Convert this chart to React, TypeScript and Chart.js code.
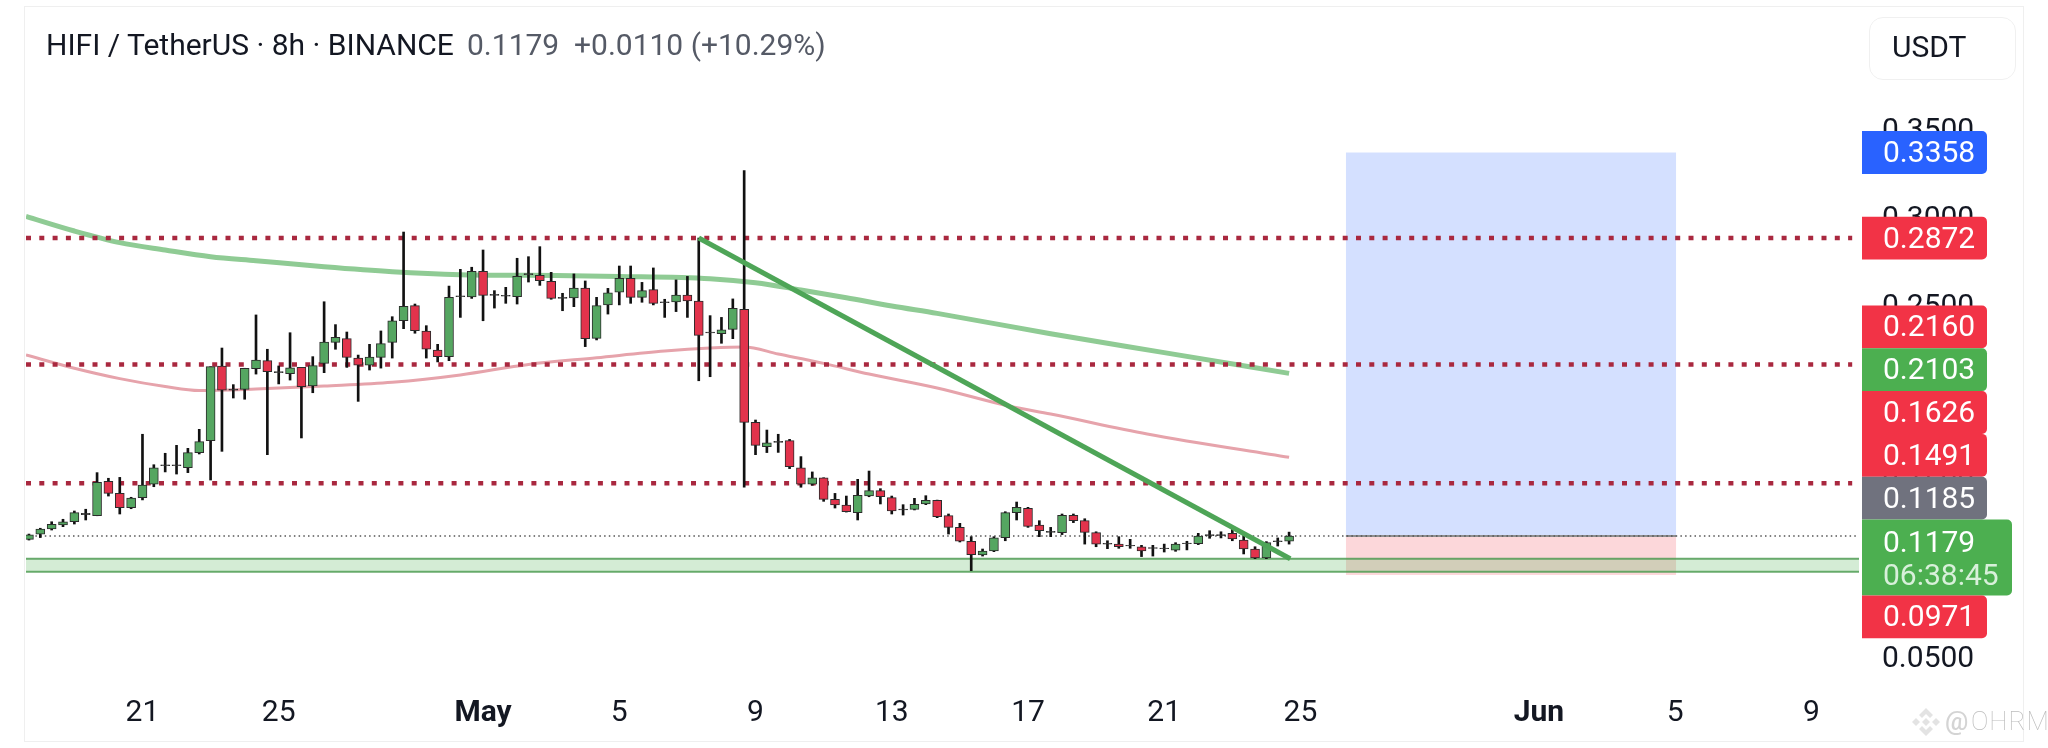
import { Chart, registerables } from "chart.js";
import React, { useEffect, useRef } from "react";

Chart.register(...registerables);

// 8h candles
const opens = [
  0.116, 0.1189, 0.1219, 0.1242, 0.126, 0.13, 0.1294, 0.149, 0.1421, 0.134, 0.1397, 0.1473, 0.1579, 0.1579,
  0.1567, 0.1653, 0.1721, 0.2145, 0.2008, 0.2012, 0.213, 0.2175, 0.2107, 0.2101, 0.2137, 0.2031, 0.216, 0.2279,
  0.23, 0.219, 0.2149, 0.2194, 0.2279, 0.2402, 0.2488, 0.2344, 0.2236, 0.2198, 0.2539, 0.2537, 0.2683, 0.2546,
  0.2541, 0.2539, 0.2664, 0.266, 0.2626, 0.2529, 0.2531, 0.2588, 0.2302, 0.2492, 0.2565, 0.2643, 0.2535, 0.2579,
  0.2505, 0.2509, 0.2548, 0.2514, 0.2333, 0.2329, 0.2353, 0.2467, 0.1825, 0.1687, 0.1711, 0.1721, 0.1567, 0.1474,
  0.151, 0.1387, 0.1355, 0.1312, 0.1406, 0.1437, 0.1397, 0.1327, 0.133, 0.1361, 0.1382, 0.1295, 0.1228, 0.1149,
  0.1071, 0.1094, 0.1169, 0.1312, 0.1336, 0.1241, 0.12, 0.1198, 0.1296, 0.1266, 0.1198, 0.1133, 0.1133, 0.1122,
  0.1118, 0.1109, 0.1107, 0.1098, 0.1135, 0.1135, 0.1181, 0.1181, 0.1194, 0.1156, 0.1105, 0.1054, 0.1147, 0.1149,
];
const highs = [
  0.119, 0.1223, 0.126, 0.1274, 0.1321, 0.1331, 0.1539, 0.1507, 0.1512, 0.1399, 0.1757, 0.1584, 0.1649, 0.1694,
  0.1677, 0.1785, 0.2141, 0.2247, 0.2039, 0.2132, 0.2435, 0.224, 0.2145, 0.2334, 0.2137, 0.2198, 0.251, 0.238,
  0.2338, 0.2207, 0.2268, 0.2344, 0.2425, 0.2906, 0.2497, 0.2374, 0.2268, 0.2599, 0.2694, 0.2706, 0.2804, 0.2573,
  0.2592, 0.2757, 0.2766, 0.2823, 0.2677, 0.2558, 0.2668, 0.2628, 0.2535, 0.2586, 0.2713, 0.2713, 0.262, 0.2702,
  0.2524, 0.2634, 0.2654, 0.2872, 0.2431, 0.2421, 0.2526, 0.3255, 0.1838, 0.1781, 0.1757, 0.1728, 0.163, 0.1543,
  0.151, 0.1421, 0.1406, 0.1501, 0.1548, 0.1448, 0.1406, 0.1357, 0.1393, 0.1408, 0.1383, 0.1304, 0.1251, 0.1175,
  0.1105, 0.1175, 0.1317, 0.1372, 0.1342, 0.1266, 0.1228, 0.1304, 0.1304, 0.1277, 0.1203, 0.1152, 0.1175, 0.116,
  0.1126, 0.1126, 0.1133, 0.1141, 0.1149, 0.1194, 0.1209, 0.1203, 0.1222, 0.1194, 0.1118, 0.1147, 0.1168, 0.1201,
];
const lows = [
  0.1156, 0.117, 0.1213, 0.1232, 0.1247, 0.127, 0.1294, 0.1406, 0.1304, 0.1334, 0.1384, 0.1459, 0.1543, 0.1531,
  0.1539, 0.1645, 0.1497, 0.166, 0.1963, 0.1956, 0.2099, 0.1641, 0.2043, 0.2065, 0.1736, 0.1993, 0.2107, 0.224,
  0.2137, 0.1944, 0.2122, 0.2133, 0.219, 0.2357, 0.2331, 0.219, 0.2168, 0.2175, 0.2421, 0.2529, 0.2402, 0.2474,
  0.2501, 0.2497, 0.2622, 0.2603, 0.2524, 0.2459, 0.2482, 0.2255, 0.2293, 0.244, 0.2492, 0.2501, 0.2507, 0.2492,
  0.2421, 0.2454, 0.2421, 0.2061, 0.2084, 0.2274, 0.23, 0.1456, 0.1641, 0.1653, 0.1654, 0.1562, 0.1456, 0.1467,
  0.1376, 0.1338, 0.1315, 0.127, 0.1402, 0.1361, 0.1304, 0.1298, 0.1327, 0.1357, 0.1283, 0.119, 0.1145, 0.0982,
  0.1065, 0.109, 0.1152, 0.127, 0.1228, 0.1175, 0.1175, 0.1187, 0.1255, 0.1133, 0.1118, 0.1107, 0.1109, 0.1109,
  0.1062, 0.1065, 0.1088, 0.1092, 0.11, 0.113, 0.1166, 0.1168, 0.1152, 0.1077, 0.105, 0.105, 0.1122, 0.1133,
];
const closes = [
  0.1185, 0.1219, 0.1245, 0.126, 0.1312, 0.1308, 0.1484, 0.1421, 0.134, 0.1395, 0.1469, 0.1567, 0.1584, 0.1584,
  0.1653, 0.1715, 0.2141, 0.2008, 0.2014, 0.2132, 0.2179, 0.2113, 0.2113, 0.2135, 0.2028, 0.2147, 0.2281, 0.2308,
  0.2194, 0.2149, 0.2196, 0.2272, 0.2402, 0.2484, 0.2346, 0.224, 0.2198, 0.2535, 0.2544, 0.2683, 0.2546, 0.2552,
  0.2546, 0.2654, 0.267, 0.263, 0.2529, 0.2535, 0.2588, 0.23, 0.2488, 0.2561, 0.2643, 0.2535, 0.2573, 0.2501,
  0.251, 0.2548, 0.2514, 0.2319, 0.2338, 0.2351, 0.2472, 0.1825, 0.1694, 0.1709, 0.1717, 0.1573, 0.1474, 0.151,
  0.1387, 0.1355, 0.1317, 0.141, 0.1437, 0.1402, 0.1321, 0.1332, 0.1359, 0.1382, 0.1289, 0.1228, 0.1149, 0.1073,
  0.1094, 0.1169, 0.1312, 0.1342, 0.1234, 0.1209, 0.1205, 0.1296, 0.1266, 0.12, 0.1133, 0.1137, 0.1118, 0.1126,
  0.1094, 0.1113, 0.1111, 0.1133, 0.1139, 0.1179, 0.1187, 0.1187, 0.1162, 0.1105, 0.1054, 0.1141, 0.1151, 0.1179,
];
const candleIndex = opens.map((_, i) => i);

// moving averages, sampled along the line
const slowMaIndex = [-0.26, 4, 8, 12, 16, 20, 26, 32, 38, 44, 52, 60, 64, 68, 72, 76, 80, 90, 100, 111];
const slowMaValues = [
  0.2995, 0.2912, 0.2846, 0.2804, 0.2766, 0.2743, 0.2709, 0.2681, 0.2664, 0.266, 0.2654, 0.2641, 0.2618, 0.2577,
  0.2533, 0.2486, 0.2444, 0.2328, 0.2221, 0.2103,
];
const fastMaIndex = [-0.26, 4, 8, 12, 15, 20, 26, 32, 38, 44, 50, 56, 60, 63, 66, 70, 74, 80, 86.4, 90, 98.5, 111];
const fastMaValues = [
  0.2207, 0.2132, 0.2073, 0.2028, 0.2005, 0.2014, 0.2031, 0.2052, 0.2094, 0.2154, 0.2192, 0.223, 0.2247, 0.2253,
  0.2213, 0.216, 0.2099, 0.202, 0.1916, 0.1872, 0.1759, 0.1626,
];

const trendIndex = [59, 111.1];
const trendValues = [0.2872, 0.105];

const levelValues = [0.2872, 0.2153, 0.1478];
const lastPrice = 0.1179;
const zoneTop = 0.105;
const zoneBottom = 0.0976;
const targetPrice = 0.3358;
const stopPrice = 0.0958;
const boxIndex = [116, 145.1];

const xTickIndex = [10, 22, 40, 52, 64, 76, 88, 100, 112, 133, 145, 157];
const xTickLabels = ["21", "25", "May", "5", "9", "13", "17", "21", "25", "Jun", "5", "9"];
const boldLabels = ["May", "Jun"];

const tagValues = [0.3358, 0.2872, 0.216, 0.2103, 0.1626, 0.1491, 0.1185, 0.1179, 0.0971];
const tagLabels = ["0.3358", "0.2872", "0.2160", "0.2103", "0.1626", "0.1491", "0.1185", "0.1179", "0.0971"];
const tagColors = ["#2962ff", "#f23346", "#f23346", "#4caf50", "#f23346", "#f23346", "#70727e", "#4caf50", "#f23346"];
const countdown = "06:38:45";

const FONT = "Roboto, sans-serif";
const X_MIN = -0.26;
const X_MAX = 161.2;
const Y_MIN = 0.03608;
const Y_MAX = 0.38267;

const line = (xs: number[], ys: number[]) => xs.map((x, i) => ({ x, y: ys[i] }));
const flat = (a: number, b: number, y: number) => [
  { x: a, y },
  { x: b, y },
];

// price tags on the right axis; the crowded ones get stacked like TradingView does
const tagsPlugin = {
  id: "priceTags",
  afterDraw(chart: any) {
    const { ctx, scales } = chart;
    const h = 42.8;
    const left = 1862;
    let stackY = 305.5;
    ctx.save();
    ctx.textBaseline = "middle";
    ctx.font = `30px ${FONT}`;
    tagValues.forEach((v, i) => {
      const isLast = v === lastPrice;
      const lone = i < 2;
      const top = lone ? scales.y.getPixelForValue(v) - h / 2 : stackY;
      const height = isLast ? 76 : h;
      const right = isLast ? 2012 : 1987;
      ctx.fillStyle = tagColors[i];
      ctx.beginPath();
      ctx.roundRect(left, top, right - left, height, [0, 5, 5, 0]);
      ctx.fill();
      ctx.fillStyle = "#ffffff";
      ctx.fillText(tagLabels[i], 1883, top + (isLast ? 25 : h / 2 + 2));
      if (isLast) {
        ctx.fillStyle = "#d8f0da";
        ctx.fillText(countdown, 1883, top + 58);
      }
      if (!lone) stackY = top + height;
    });
    ctx.restore();
  },
};

const App = () => {
  const canvasRef = useRef<HTMLCanvasElement | null>(null);

  useEffect(() => {
    if (!canvasRef.current) return;
    const bodyColors = opens.map((o, i) =>
      Math.abs(closes[i] - o) < 0.0008 ? "#3a3a3a" : closes[i] >= o ? "#55a661" : "#e2334c"
    );
    const chart = new Chart(canvasRef.current, {
      type: "bar",
      data: {
        datasets: [
          {
            type: "bar",
            data: candleIndex.map((x, i) => ({ x, y: [opens[i], closes[i]] })),
            backgroundColor: bodyColors,
            borderColor: "#2b2b2b",
            borderWidth: 1,
            borderSkipped: false,
            barThickness: 9,
            grouped: false,
            order: 2,
          },
          {
            type: "bar",
            data: candleIndex.map((x, i) => ({ x, y: [lows[i], highs[i]] })),
            backgroundColor: "#111111",
            barThickness: 2,
            grouped: false,
            order: 3,
          },
          {
            type: "line",
            data: line(trendIndex, trendValues),
            borderColor: "#4ea557",
            borderWidth: 5,
            pointRadius: 0,
            order: 1,
          },
          {
            type: "line",
            data: line(slowMaIndex, slowMaValues),
            borderColor: "#8fcb94",
            borderWidth: 5,
            pointRadius: 0,
            cubicInterpolationMode: "monotone",
            order: 5,
          },
          {
            type: "line",
            data: line(fastMaIndex, fastMaValues),
            borderColor: "#e6a3ab",
            borderWidth: 3,
            pointRadius: 0,
            cubicInterpolationMode: "monotone",
            order: 5,
          },
          ...levelValues.map((v) => ({
            type: "line" as const,
            data: flat(X_MIN, 160.6, v),
            borderColor: "#a9283f",
            borderWidth: 4.5,
            borderDash: [5, 8.3],
            pointRadius: 0,
            order: 4,
          })),
          {
            type: "line",
            data: flat(X_MIN, 161, lastPrice),
            borderColor: "#555555",
            borderWidth: 1.5,
            borderDash: [1.5, 3.2],
            pointRadius: 0,
            order: 4,
          },
          {
            // entry line across the position box
            type: "line",
            data: flat(boxIndex[0], boxIndex[1], lastPrice),
            borderColor: "#8f8f8f",
            borderWidth: 2,
            pointRadius: 0,
            order: 4.5,
          },
          {
            // green support zone
            type: "line",
            data: flat(X_MIN, X_MAX, zoneTop),
            borderColor: "rgba(70, 150, 75, 0.8)",
            borderWidth: 2,
            pointRadius: 0,
            fill: { value: zoneBottom },
            backgroundColor: "rgba(76, 175, 80, 0.24)",
            order: 6,
          },
          {
            type: "line",
            data: flat(X_MIN, X_MAX, zoneBottom),
            borderColor: "rgba(70, 150, 75, 0.8)",
            borderWidth: 2,
            pointRadius: 0,
            order: 6,
          },
          {
            // long position box, target side
            type: "line",
            data: flat(boxIndex[0], boxIndex[1], targetPrice),
            borderColor: "rgba(41, 98, 255, 0)",
            borderWidth: 0,
            pointRadius: 0,
            fill: { value: lastPrice },
            backgroundColor: "rgba(41, 98, 255, 0.2)",
            order: 7,
          },
          {
            // stop side
            type: "line",
            data: flat(boxIndex[0], boxIndex[1], lastPrice),
            borderColor: "rgba(242, 54, 69, 0)",
            borderWidth: 0,
            pointRadius: 0,
            fill: { value: stopPrice },
            backgroundColor: "rgba(242, 54, 69, 0.2)",
            order: 7,
          },
        ] as any,
      },
      options: {
        responsive: false,
        animation: false,
        devicePixelRatio: 1,
        layout: { padding: { left: 26, top: 70, right: 0, bottom: 0 } },
        plugins: { legend: { display: false }, tooltip: { enabled: false }, title: { display: false } },
        scales: {
          x: {
            type: "linear",
            offset: false,
            min: X_MIN,
            max: X_MAX,
            grid: { display: false, drawTicks: false },
            border: { display: false },
            afterBuildTicks: (scale: any) => {
              scale.ticks = xTickIndex.map((value) => ({ value }));
            },
            afterFit: (scale: any) => {
              scale.height = 68;
            },
            ticks: {
              autoSkip: false,
              maxRotation: 0,
              minRotation: 0,
              padding: 15,
              color: "#131722",
              callback: (value: any) => xTickLabels[xTickIndex.indexOf(value)],
              font: (ctx: any) => ({
                family: FONT,
                size: 30,
                weight: boldLabels.includes(xTickLabels[xTickIndex.indexOf(ctx.tick?.value)]) ? "bold" : "normal",
              }),
            },
          },
          y: {
            type: "linear",
            position: "right",
            min: Y_MIN,
            max: Y_MAX,
            grid: { display: false, drawTicks: false },
            border: { display: false },
            afterFit: (scale: any) => {
              scale.width = 189;
            },
            ticks: {
              stepSize: 0.05,
              includeBounds: false,
              padding: 23,
              labelOffset: 4,
              color: "#131722",
              font: { family: FONT, size: 30 },
              callback: (value: any) => Number(value).toFixed(4),
            },
          },
        },
      } as any,
      plugins: [tagsPlugin],
    });
    return () => chart.destroy();
  }, []);

  const title: React.CSSProperties = { position: "absolute", top: 27, fontFamily: FONT, fontSize: 30, whiteSpace: "nowrap" };

  return (
    <div style={{ position: "absolute", left: 0, top: 0, width: 2048, height: 748, background: "#fff", overflow: "hidden" }}>
      <div style={{ position: "absolute", left: 24, top: 6, width: 2000, height: 736, border: "1.5px solid #efefef", boxSizing: "border-box" }} />
      <canvas ref={canvasRef} width={2048} height={748} style={{ position: "absolute", left: 0, top: 0 }} />
      <span style={{ ...title, left: 46, color: "#131722" }}>HIFI / TetherUS · 8h · BINANCE</span>
      <span style={{ ...title, left: 467, color: "#555a66" }}>0.1179</span>
      <span style={{ ...title, left: 574, color: "#555a66" }}>+0.0110 (+10.29%)</span>
      <div
        style={{
          position: "absolute",
          left: 1869,
          top: 17,
          width: 147,
          height: 63,
          border: "1.5px solid #f0f0f0",
          borderRadius: 14,
          boxSizing: "border-box",
          fontFamily: FONT,
          fontSize: 30,
          color: "#131722",
          lineHeight: "58px",
          paddingLeft: 22,
        }}
      >
        USDT
      </div>
      {/* watermark */}
      <svg style={{ position: "absolute", left: 1911, top: 707 }} width={30} height={30} viewBox="0 0 30 30">
        <g fill="#e3e3e3">
          <polygon points="15,1 22,8 19,11 15,7 11,11 8,8" />
          <polygon points="15,29 22,22 19,19 15,23 11,19 8,22" />
          <polygon points="5,11 9,15 5,19 1,15" />
          <polygon points="25,11 29,15 25,19 21,15" />
          <polygon points="15,11 19,15 15,19 11,15" />
        </g>
      </svg>
      <span style={{ position: "absolute", left: 1945, top: 706, fontFamily: FONT, fontSize: 26, fontWeight: 500, color: "#d4d4d4" }}>@</span>
      <span style={{ position: "absolute", left: 1971, top: 706, fontFamily: FONT, fontSize: 26, fontWeight: 100, letterSpacing: 1, color: "#bdbdbd" }}>OHRM</span>
    </div>
  );
};

export default App;
